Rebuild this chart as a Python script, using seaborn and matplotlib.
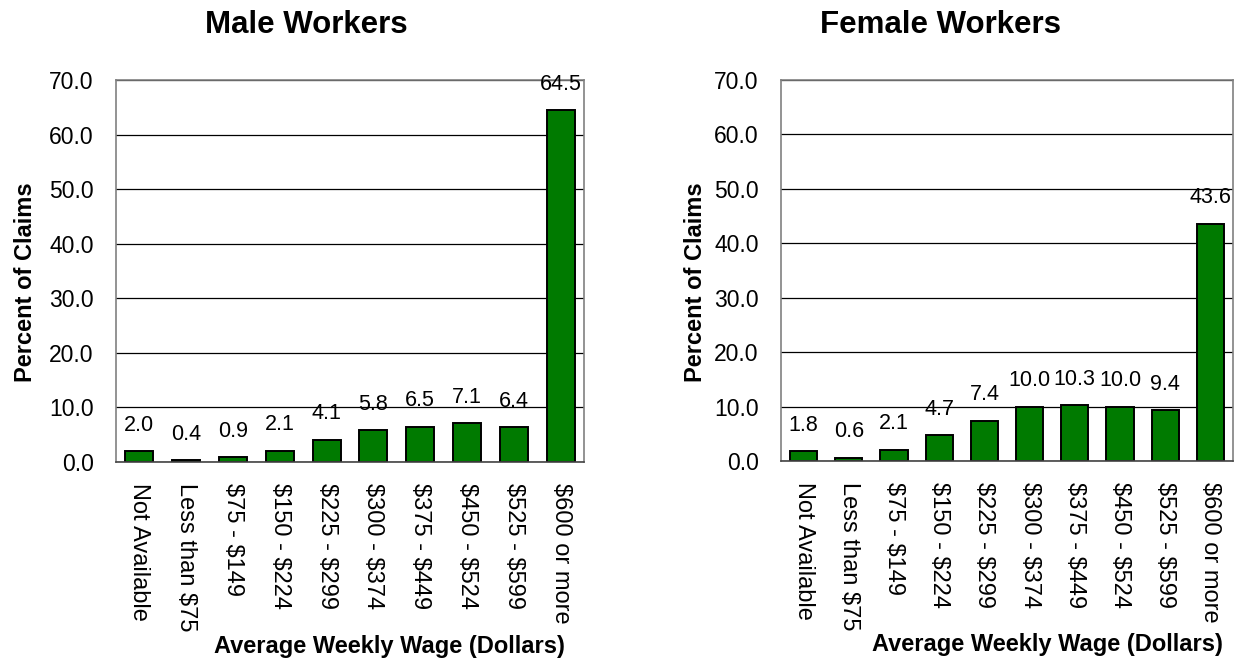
import matplotlib
matplotlib.use("Agg")
import matplotlib.pyplot as plt
import seaborn as sns
import pandas as pd

# ------------------- Data ---------------------
wage_groups = ['Not Available', 'Less than $75', '$75 - $149', '$150 - $224',
               '$225 - $299', '$300 - $374', '$375 - $449', '$450 - $524',
               '$525 - $599', '$600 or more']
male_pct = [2.0, 0.4, 0.9, 2.1, 4.1, 5.8, 6.5, 7.1, 6.4, 64.5]
female_pct = [1.8, 0.6, 2.1, 4.7, 7.4, 10.0, 10.3, 10.0, 9.4, 43.6]
y_ticks = [0, 10, 20, 30, 40, 50, 60, 70]

df_male = pd.DataFrame({'Wage': wage_groups, 'Percent': male_pct})
df_female = pd.DataFrame({'Wage': wage_groups, 'Percent': female_pct})

sns.set_style('white')
plt.rcParams['font.family'] = ['Liberation Sans', 'DejaVu Sans']
plt.rcParams['text.parse_math'] = False
plt.rcParams['text.color'] = 'black'
plt.rcParams['axes.labelcolor'] = 'black'
plt.rcParams['xtick.color'] = 'black'
plt.rcParams['ytick.color'] = 'black'

fig = plt.figure(figsize=(12.41, 6.61), dpi=100)
W, H = 1241, 661

# axes boxes in pixels: left, right, top, bottom
boxes = [(116, 584, 80, 462), (781, 1233, 80, 461)]
# data, title, title x, ylabel x, xlabel x
panels = [(df_male, 'Male Workers', 0.406, -0.169, 0.585),
          (df_female, 'Female Workers', 0.352, -0.164, 0.59)]

for (l, r, t, b), (df, title, tx, ylx, xlx) in zip(boxes, panels):
    ax = fig.add_axes([l / W, 1 - b / H, (r - l) / W, (b - t) / H])
    sns.barplot(data=df, x='Wage', y='Percent', color='#007A00', saturation=1,
                edgecolor='black', linewidth=1.4, width=0.6, ax=ax)
    ax.set_xlim(-0.5, len(wage_groups) - 0.5)
    ax.set_ylim(0, 70)
    ax.set_yticks(y_ticks)
    ax.set_yticklabels([f'{v:.1f}' for v in y_ticks])
    ax.yaxis.grid(True, color='black', linewidth=0.9)
    ax.set_axisbelow(True)
    for side in ['left', 'top', 'right']:
        ax.spines[side].set_color('#808080')
        ax.spines[side].set_linewidth(1.2)
    ax.spines['bottom'].set_color('#444444')
    ax.spines['bottom'].set_linewidth(1.2)
    ax.tick_params(axis='y', length=0, pad=16, labelsize=16.5)
    ax.tick_params(axis='x', length=0, pad=15, labelsize=17, labelrotation=270)

    ax.bar_label(ax.containers[0], fmt='%.1f', padding=11, fontsize=15.5)

    ax.set_title(title, fontsize=22.5, fontweight='bold', x=tx, y=1.123, pad=0)
    ax.set_xlabel('Average Weekly Wage (Dollars)', fontsize=17, fontweight='bold')
    ax.xaxis.set_label_coords(xlx, -0.452)
    ax.set_ylabel('Percent of Claims', fontsize=17, fontweight='bold')
    ax.yaxis.set_label_coords(ylx, 0.47)

fig.savefig('out.png', dpi=100)
